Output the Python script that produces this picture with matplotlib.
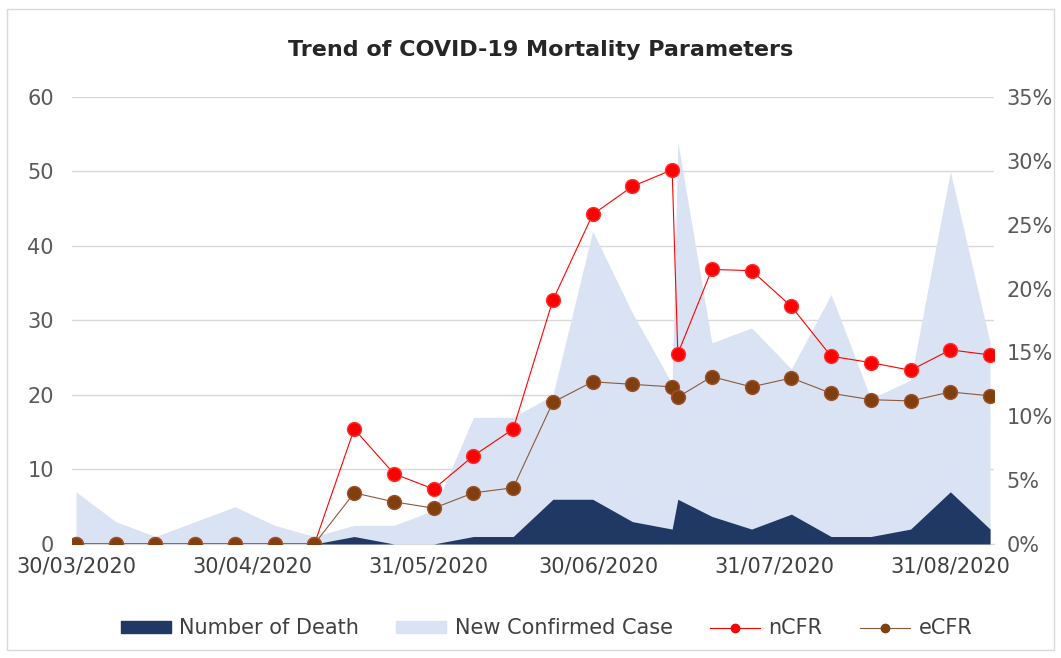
import matplotlib.pyplot as plt
import matplotlib.dates as mdates
import pandas as pd
from matplotlib.ticker import MultipleLocator, FuncFormatter
from matplotlib.lines import Line2D
from matplotlib.patches import Patch, Rectangle

plt.rcParams['font.family'] = ['DejaVu Sans']

# weekly reporting dates (one extra report on 14/07)
dates = pd.to_datetime([
    "30/03/2020", "06/04/2020", "13/04/2020", "20/04/2020", "27/04/2020",
    "04/05/2020", "11/05/2020", "18/05/2020", "25/05/2020", "01/06/2020",
    "08/06/2020", "15/06/2020", "22/06/2020", "29/06/2020", "06/07/2020",
    "13/07/2020", "14/07/2020", "20/07/2020", "27/07/2020", "03/08/2020",
    "10/08/2020", "17/08/2020", "24/08/2020", "31/08/2020", "07/09/2020",
], format="%d/%m/%Y")

new_cases = [7, 3, 1, 3, 5, 2.5, 1, 2.5, 2.5, 4.5,
             17, 17, 20, 42, 31, 21.5, 54, 27, 29, 23.5,
             33.5, 19.5, 22, 50, 27]
deaths = [0, 0, 0, 0, 0, 0, 0, 1, 0, 0,
          1, 1, 6, 6, 3, 2, 6, 3.7, 2, 4,
          1, 1, 2, 7, 2]
# case fatality ratios in %
ncfr = [0, 0, 0, 0, 0, 0, 0, 9.0, 5.5, 4.3,
        6.9, 9.0, 19.1, 25.8, 28.0, 29.3, 14.9, 21.5, 21.4, 18.6,
        14.7, 14.2, 13.6, 15.2, 14.8]
ecfr = [0, 0, 0, 0, 0, 0, 0, 4.0, 3.3, 2.8,
        4.0, 4.4, 11.1, 12.7, 12.5, 12.3, 11.5, 13.1, 12.3, 13.0,
        11.8, 11.3, 11.2, 11.9, 11.6]

tick_dates = pd.to_datetime(["30/03/2020", "30/04/2020", "31/05/2020",
                             "30/06/2020", "31/07/2020", "31/08/2020"], format="%d/%m/%Y")

grid_c = "#D9D9D9"
text_c = "#595959"
fs = 15

fig = plt.figure(figsize=(10.61, 6.58), dpi=100)
fig.patches.append(Rectangle((0.007, 0.012), 0.986, 0.975, transform=fig.transFigure,
                             fill=False, ec=grid_c, lw=1))

ax = fig.add_axes([0.0679, 0.1733, 0.869, 0.6793])
ax.fill_between(dates, new_cases, color="#DAE3F3", lw=0, zorder=2)
ax.fill_between(dates, deaths, color="#203864", lw=0, zorder=3)
ax.set_ylim(0, 60)
ax.yaxis.set_major_locator(MultipleLocator(10))
ax.set_xlim(dates[0] - pd.Timedelta(days=0.7), dates[-1] + pd.Timedelta(days=0.7))
ax.set_xticks(tick_dates)
ax.xaxis.set_major_formatter(mdates.DateFormatter("%d/%m/%Y"))
ax.grid(axis="y", color=grid_c, lw=1)
ax.set_axisbelow(True)
for s in ["top", "left", "right"]:
    ax.spines[s].set_visible(False)
ax.spines["bottom"].set_color(grid_c)
ax.tick_params(axis="x", length=0, pad=9, labelsize=fs, labelcolor="#404040")
ax.tick_params(axis="y", length=0, pad=13, labelsize=fs, labelcolor=text_c)

ax2 = ax.twinx()
ax2.plot(dates, ncfr, color="#FF0000", lw=0.8, marker="o", ms=10, mec="#FF3030", zorder=4)
ax2.plot(dates, ecfr, color="#8B5A3C", lw=0.8, marker="o", ms=10,
         mfc="#7F3F0F", mec="#A0522D", zorder=5)
ax2.set_ylim(0, 35)
ax2.yaxis.set_major_locator(MultipleLocator(5))
ax2.yaxis.set_major_formatter(FuncFormatter(lambda v, p: f"{v:.0f}%"))
for s in ax2.spines.values():
    s.set_visible(False)
ax2.tick_params(axis="y", length=0, pad=9, labelsize=fs, labelcolor=text_c)

fig.text(0.51, 0.924, "Trend of COVID-19 Mortality Parameters", ha="center", va="center",
         fontsize=16, fontweight="bold", color="#262626")

handles = [
    Patch(color="#203864", label="Number of Death"),
    Patch(color="#DAE3F3", label="New Confirmed Case"),
    Line2D([], [], color="#FF0000", lw=0.8, marker="o", ms=6, label="nCFR"),
    Line2D([], [], color="#8B5A3C", lw=0.8, marker="o", ms=6, mfc="#7F3F0F", mec="#7F3F0F", label="eCFR"),
]
fig.legend(handles=handles, loc="center", bbox_to_anchor=(0.515, 0.045), ncol=4,
           frameon=False, fontsize=fs, handlelength=2.4, handleheight=0.55,
           columnspacing=1.8, handletextpad=0.4, labelcolor="#404040")

fig.savefig("out.png", dpi=100)
